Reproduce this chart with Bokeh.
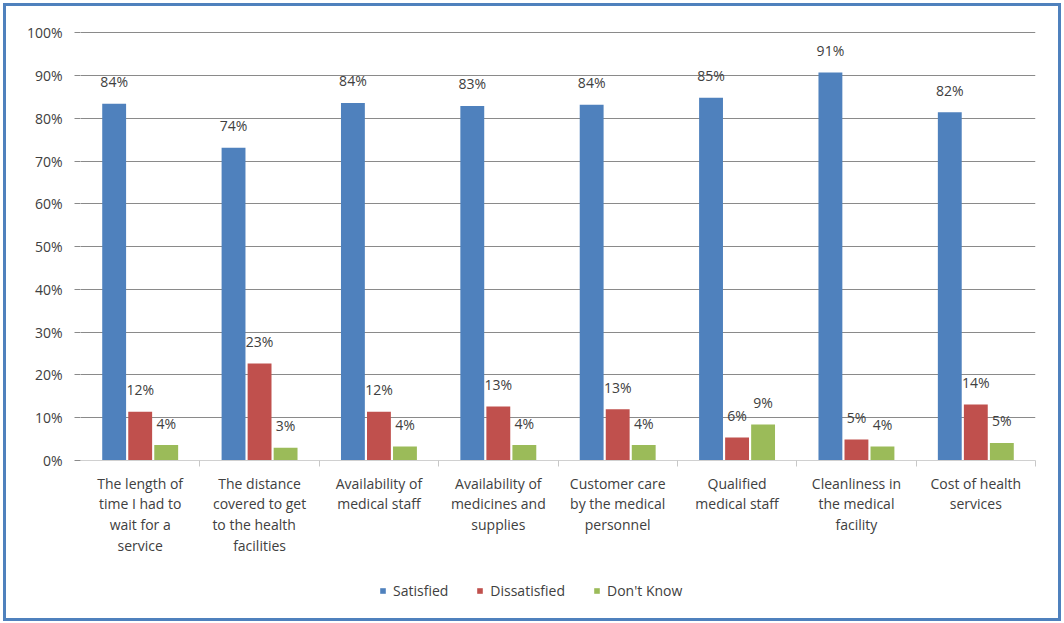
from bokeh.plotting import figure
from bokeh.models import (ColumnDataSource, FixedTicker, Legend, LegendItem,
                          LinearAxis, Range1d, Grid)
from bokeh.layouts import column
from bokeh.core.properties import value
from bokeh.embed import file_html
from bokeh.resources import INLINE

categories = [
    "The length of\ntime I had to\nwait for a\nservice",
    "The distance\ncovered to get\nto the    health\nfacilities",
    "Availability of\nmedical staff",
    "Availability of\nmedicines and\nsupplies",
    "Customer care\nby the medical\npersonnel",
    "Qualified\nmedical staff",
    "Cleanliness in\nthe medical\nfacility",
    "Cost of health\nservices",
]
series = ["Satisfied", "Dissatisfied", "Don't Know"]
satisfied = [83.4, 73.1, 83.6, 82.9, 83.2, 84.8, 90.7, 81.4]
dissatisfied = [11.4, 22.7, 11.4, 12.6, 12.0, 5.4, 4.9, 13.1]
dont_know = [3.6, 3.0, 3.3, 3.6, 3.6, 8.4, 3.3, 4.1]
satisfied_labels = ["84%", "74%", "84%", "83%", "84%", "85%", "91%", "82%"]
dissatisfied_labels = ["12%", "23%", "12%", "13%", "13%", "6%", "5%", "14%"]
dont_know_labels = ["4%", "3%", "4%", "4%", "4%", "9%", "4%", "5%"]
y_ticks = [0, 10, 20, 30, 40, 50, 60, 70, 80, 90, 100]

colors = ["#4F81BD", "#C0504D", "#9BBB59"]
FONT = "Open Sans"
TXT = "#404040"

p = figure(width=1052, height=564, output_backend="svg", toolbar_location=None,
           x_range=Range1d(0, len(categories)), y_range=Range1d(0, 100.3),
           min_border_left=74, min_border_right=23, min_border_top=25,
           min_border_bottom=110, x_axis_location=None, y_axis_location=None)
p.outline_line_color = None
p.background_fill_color = "white"
p.border_fill_color = "white"

offsets = [-0.218, 0.0, 0.218]
vals = [satisfied, dissatisfied, dont_know]
labs = [satisfied_labels, dissatisfied_labels, dont_know_labels]
for k in range(3):
    xs = [i + 0.5 + offsets[k] for i in range(len(categories))]
    src = ColumnDataSource(dict(x=xs, top=vals[k], lab=labs[k]))
    p.vbar(x="x", top="top", width=0.2, bottom=0, source=src,
           fill_color=colors[k], line_color=None)
    p.text(x="x", y="top", text="lab", source=src, y_offset=-22,
           text_align="center", text_baseline="middle",
           text_font=value(FONT), text_font_size="14px", text_color=TXT)

# y axis
yaxis = LinearAxis(ticker=FixedTicker(ticks=y_ticks))
yaxis.axis_line_color = None
yaxis.major_tick_out = 6
yaxis.major_tick_in = 0
yaxis.major_tick_line_color = "#8a8a8a"
yaxis.minor_tick_line_color = None
yaxis.major_label_standoff = 12
yaxis.major_label_overrides = {t: f"{t}%" for t in y_ticks}
yaxis.major_label_text_font = FONT
yaxis.major_label_text_font_size = "14px"
yaxis.major_label_text_color = TXT
p.add_layout(yaxis, "left")

# x axis
n = len(categories)
xaxis = LinearAxis(ticker=FixedTicker(ticks=[i + 0.5 for i in range(n)],
                                      minor_ticks=[i for i in range(1, n + 1)]))
xaxis.axis_line_color = "#d0d0d0"
xaxis.major_tick_line_color = None
xaxis.major_tick_out = 0
xaxis.major_tick_in = 0
xaxis.minor_tick_out = 6
xaxis.minor_tick_in = 0
xaxis.minor_tick_line_color = "#c8c8c8"
xaxis.major_label_standoff = 7
xaxis.major_label_overrides = {i + 0.5: c for i, c in enumerate(categories)}
xaxis.major_label_text_font = FONT
xaxis.major_label_text_font_size = "14px"
xaxis.major_label_text_color = TXT
xaxis.major_label_text_line_height = 1.1
p.add_layout(xaxis, "below")

p.xgrid.visible = False
p.ygrid.grid_line_color = None
g = Grid(dimension=1, ticker=FixedTicker(ticks=y_ticks[1:]),
         grid_line_color="#8a8a8a", grid_line_width=1)
p.add_layout(g)

# legend strip (swatch renderers sit far outside the visible range)
lg = figure(width=1052, height=48, output_backend="svg", toolbar_location=None,
            x_range=Range1d(0, 1), y_range=Range1d(0, 1),
            min_border=0, x_axis_location=None, y_axis_location=None)
lg.outline_line_color = None
lg.xgrid.visible = False
lg.ygrid.visible = False
swatches = []
for k in range(3):
    swatches.append(lg.vbar(x=[-10], top=[-9], bottom=[-10], width=0.1,
                            fill_color=colors[k], line_color=None))
legend = Legend(items=[LegendItem(label=s, renderers=[swatches[k]]) for k, s in enumerate(series)],
                orientation="horizontal", location=(299, 18),
                glyph_width=7, glyph_height=7, label_standoff=7, spacing=28,
                padding=0, margin=0, border_line_color=None,
                background_fill_alpha=0,
                label_text_font=FONT, label_text_font_size="14px",
                label_text_color=TXT)
lg.add_layout(legend, "center")

layout = column(p, lg, spacing=0, margin=(3, 0, 0, 3),
                styles={"border": "3px solid #4F81BD"})

open("out.html", "w").write(file_html(layout, INLINE))
